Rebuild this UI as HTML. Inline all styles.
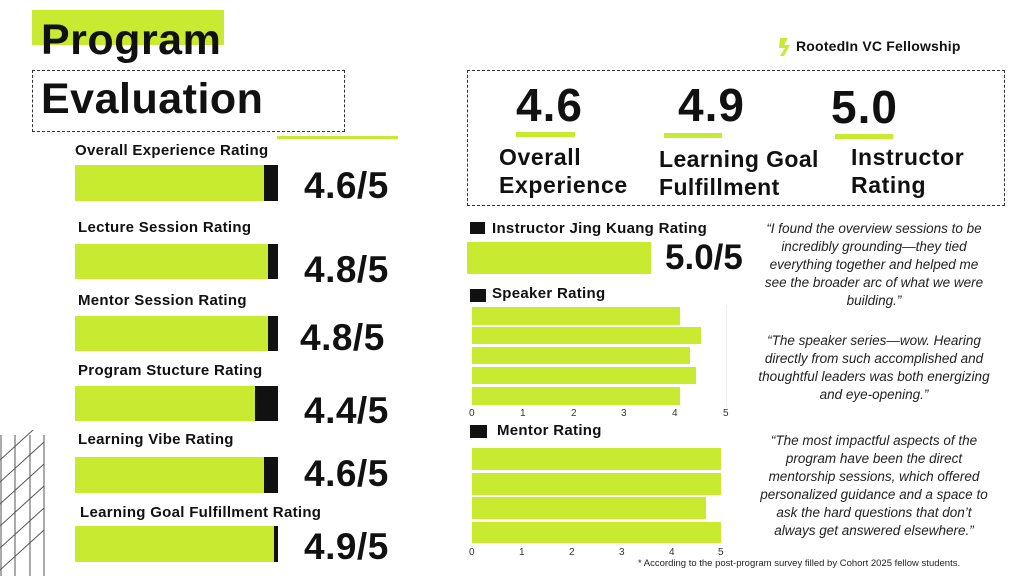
<!DOCTYPE html>
<html><head><meta charset="utf-8"><style>
html,body{margin:0;width:1024px;height:576px;overflow:hidden}
body{background:#fff;position:relative;font-family:"Liberation Sans",sans-serif;color:#111}
.a{position:absolute;white-space:nowrap}
.b{font-weight:bold}
.g{background:#c8ea30;position:absolute}
.k{background:#111;position:absolute}
.lbl{font-size:15px;font-weight:bold;position:absolute;white-space:nowrap;letter-spacing:0.3px}
.num{font-size:37px;font-weight:bold;position:absolute;letter-spacing:0.5px;line-height:40px}
.q{position:absolute;font-style:italic;font-size:13.5px;line-height:18px;text-align:center;width:232px;left:758px;color:#222;white-space:normal}
.tk{position:absolute;font-size:10px;color:#333}
</style></head><body>
<div class="g" style="left:32px;top:10px;width:192px;height:35px"></div>
<div class="a b" style="left:41px;top:16px;font-size:43px;line-height:48px;letter-spacing:0.5px">Program</div>
<div class="a" style="left:32px;top:70px;width:311px;height:60px;border:1px dashed #333"></div>
<div class="a b" style="left:41px;top:75px;font-size:43px;line-height:48px;letter-spacing:0.5px">Evaluation</div>
<div class="g" style="left:277px;top:136px;width:121px;height:3px"></div>

<div class="lbl" style="left:75px;top:142px">Overall Experience Rating</div>
<div class="g" style="left:75px;top:165px;width:189px;height:36px"></div><div class="k" style="left:264px;top:165px;width:14px;height:36px"></div>
<div class="num" style="left:304px;top:166px">4.6/5</div>

<div class="lbl" style="left:78px;top:219px">Lecture Session Rating</div>
<div class="g" style="left:75px;top:244px;width:193px;height:35px"></div><div class="k" style="left:268px;top:244px;width:10px;height:35px"></div>
<div class="num" style="left:304px;top:250px">4.8/5</div>

<div class="lbl" style="left:78px;top:292px">Mentor Session Rating</div>
<div class="g" style="left:75px;top:316px;width:193px;height:35px"></div><div class="k" style="left:268px;top:316px;width:10px;height:35px"></div>
<div class="num" style="left:300px;top:318px">4.8/5</div>

<div class="lbl" style="left:78px;top:362px">Program Stucture Rating</div>
<div class="g" style="left:75px;top:386px;width:180px;height:35px"></div><div class="k" style="left:255px;top:386px;width:23px;height:35px"></div>
<div class="num" style="left:304px;top:391px">4.4/5</div>

<div class="lbl" style="left:78px;top:431px">Learning Vibe Rating</div>
<div class="g" style="left:75px;top:457px;width:189px;height:36px"></div><div class="k" style="left:264px;top:457px;width:14px;height:36px"></div>
<div class="num" style="left:304px;top:454px">4.6/5</div>

<div class="lbl" style="left:80px;top:504px">Learning Goal Fulfillment Rating</div>
<div class="g" style="left:75px;top:526px;width:199px;height:36px"></div><div class="k" style="left:274px;top:526px;width:4px;height:36px"></div>
<div class="num" style="left:304px;top:527px">4.9/5</div>

<svg class="a" style="left:0;top:430px" width="50" height="146">
<g stroke="#555" stroke-width="1"><line x1="1" y1="5" x2="1" y2="146"/><line x1="15" y1="5" x2="15" y2="146"/><line x1="30" y1="5" x2="30" y2="146"/><line x1="44" y1="5" x2="44" y2="146"/>
<line x1="0" y1="30" x2="44" y2="-10"/><line x1="0" y1="52" x2="44" y2="12"/><line x1="0" y1="74" x2="44" y2="34"/><line x1="0" y1="96" x2="44" y2="56"/><line x1="0" y1="118" x2="44" y2="78"/><line x1="0" y1="140" x2="44" y2="100"/></g></svg>

<svg class="a" style="left:776px;top:36px" width="18" height="22"><path d="M4 2 L12 2 L8 9 L14 9 L8 20 L4 20 L9 12 L3 12 Z" fill="#c8ea30"/></svg>
<div class="a b" style="left:796px;top:38px;font-size:14px;letter-spacing:0.2px">RootedIn VC Fellowship</div>

<div class="a" style="left:467px;top:70px;width:536px;height:134px;border:1px dashed #333"></div>
<div class="a b" style="left:516px;top:78px;font-size:46px;letter-spacing:1px">4.6</div>
<div class="g" style="left:516px;top:132px;width:59px;height:5px"></div>
<div class="a b" style="left:499px;top:143px;font-size:23px;line-height:28px;letter-spacing:0.6px">Overall<br>Experience</div>
<div class="a b" style="left:678px;top:78px;font-size:46px;letter-spacing:1px">4.9</div>
<div class="g" style="left:664px;top:133px;width:58px;height:5px"></div>
<div class="a b" style="left:659px;top:145px;font-size:23px;line-height:28px;letter-spacing:0.4px">Learning Goal<br>Fulfillment</div>
<div class="a b" style="left:831px;top:80px;font-size:46px;letter-spacing:1px">5.0</div>
<div class="g" style="left:835px;top:134px;width:58px;height:5px"></div>
<div class="a b" style="left:851px;top:143px;font-size:23px;line-height:28px;letter-spacing:0.6px">Instructor<br>Rating</div>

<div class="k" style="left:470px;top:222px;width:15px;height:12px"></div>
<div class="a b" style="left:492px;top:220px;font-size:15px;letter-spacing:0.3px">Instructor Jing Kuang Rating</div>
<div class="g" style="left:467px;top:242px;width:184px;height:32px"></div>
<div class="a b" style="left:665px;top:239px;font-size:35px;line-height:38px">5.0/5</div>

<div class="k" style="left:470px;top:289px;width:16px;height:13px"></div>
<div class="a b" style="left:492px;top:285px;font-size:15px;letter-spacing:0.3px">Speaker Rating</div>
<div class="a" style="left:726px;top:305px;width:1px;height:102px;background:#eee"></div>
<div class="g" style="left:472px;top:307px;width:208px;height:18px"></div>
<div class="g" style="left:472px;top:327px;width:229px;height:17px"></div>
<div class="g" style="left:472px;top:347px;width:218px;height:17px"></div>
<div class="g" style="left:472px;top:367px;width:224px;height:17px"></div>
<div class="g" style="left:472px;top:387px;width:208px;height:18px"></div>
<div class="tk" style="left:469px;top:408px">0</div><div class="tk" style="left:520px;top:408px">1</div><div class="tk" style="left:571px;top:408px">2</div><div class="tk" style="left:621px;top:408px">3</div><div class="tk" style="left:672px;top:408px">4</div><div class="tk" style="left:723px;top:408px">5</div>

<div class="k" style="left:470px;top:425px;width:17px;height:13px"></div>
<div class="a b" style="left:497px;top:422px;font-size:15px;letter-spacing:0.3px">Mentor Rating</div>
<div class="g" style="left:472px;top:448px;width:249px;height:22px"></div>
<div class="g" style="left:472px;top:473px;width:249px;height:22px"></div>
<div class="g" style="left:472px;top:497px;width:234px;height:22px"></div>
<div class="g" style="left:472px;top:522px;width:249px;height:21px"></div>
<div class="tk" style="left:469px;top:547px">0</div><div class="tk" style="left:519px;top:547px">1</div><div class="tk" style="left:569px;top:547px">2</div><div class="tk" style="left:619px;top:547px">3</div><div class="tk" style="left:669px;top:547px">4</div><div class="tk" style="left:718px;top:547px">5</div>

<div class="q" style="top:220px">“I found the overview sessions to be incredibly grounding—they tied everything together and helped me see the broader arc of what we were building.”</div>
<div class="q" style="top:332px">“The speaker series—wow. Hearing directly from such accomplished and thoughtful leaders was both energizing and eye-opening.”</div>
<div class="q" style="top:432px">“The most impactful aspects of the program have been the direct mentorship sessions, which offered personalized guidance and a space to ask the hard questions that don’t always get answered elsewhere.”</div>
<div class="a" style="left:638px;top:558px;font-size:9.5px;color:#222">* According to the post-program survey filled by Cohort 2025 fellow students.</div>
</body></html>
